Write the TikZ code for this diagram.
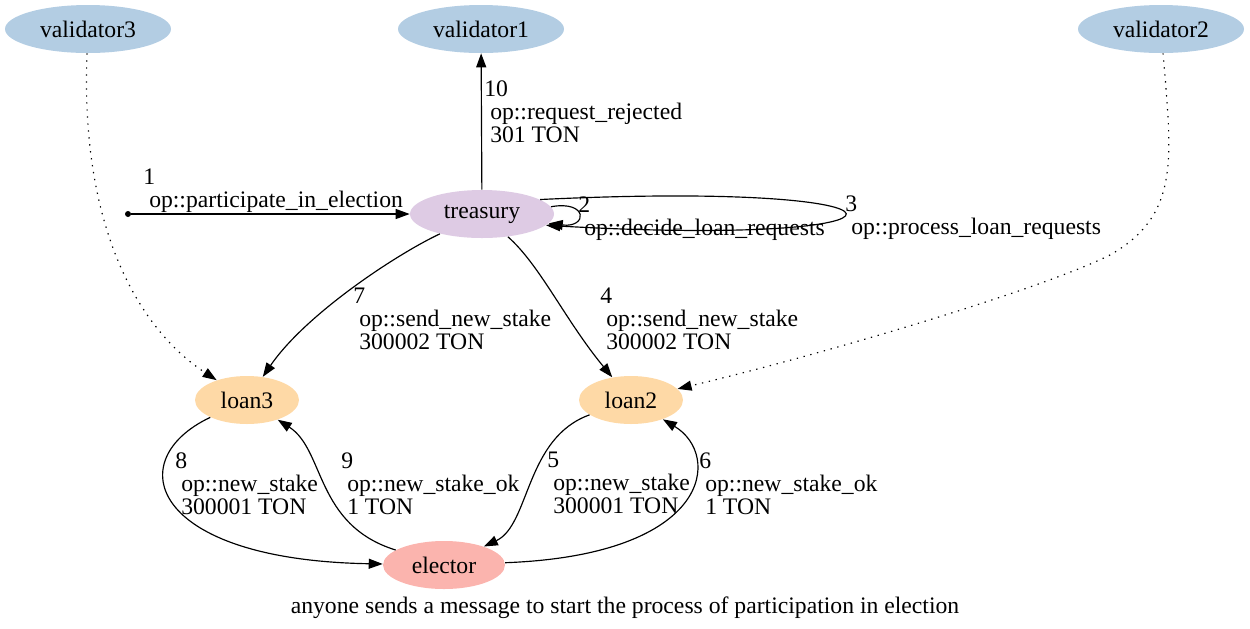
\documentclass[tikz,border=0pt]{standalone}
\usepackage{fontspec}
\setmainfont{Liberation Serif}
\usetikzlibrary{shapes.geometric, arrows.meta}
\definecolor{valblue}{HTML}{B3CDE3}
\definecolor{treaspurple}{HTML}{DECBE4}
\definecolor{loanorange}{HTML}{FED9A6}
\definecolor{electred}{HTML}{FBB4AE}
\tikzstyle{validator} = [ellipse, minimum width=99.6pt, minimum height=28.8pt, inner sep=0pt, fill=valblue]
\tikzstyle{treasurybox} = [ellipse, minimum width=86.4pt, minimum height=28.8pt, inner sep=0pt, fill=treaspurple]
\tikzstyle{loan} = [ellipse, minimum width=62.4pt, minimum height=28.8pt, inner sep=0pt, fill=loanorange]
\tikzstyle{electorbox} = [ellipse, minimum width=73.2pt, minimum height=28.8pt, inner sep=0pt, fill=electred]
\tikzstyle{msg} = [anchor=north west, inner sep=0pt, align=left]
\tikzstyle{arrow} = [line width=0.7pt, -{Triangle[length=8.4pt, width=6pt]}]
\tikzstyle{dotarrow} = [arrow, dash pattern=on 0.8pt off 3.4pt]
\newcommand{\labsp}{\hspace*{0.25em}}

\begin{document}
\begin{tikzpicture}[x=0.6pt, y=-0.6pt, font=\fontsize{14.2}{13.8}\selectfont]
            \useasboundingbox (0,0) rectangle (1250,628);
            \node [validator] at (88,29) (validator3) {validator3};
            \node [validator] at (481,29) (validator1) {validator1};
            \node [validator] at (1161,29) (validator2) {validator2};
            \node [treasurybox] at (482,214) (treasury) {treasury};
            \node [loan] at (247,400) (loan3) {loan3};
            \node [loan] at (631,400) (loan2) {loan2};
            \node [electorbox] at (444,565) (elector) {elector};
            \node [circle, fill, inner sep=0pt, minimum size=3.6pt] at (128,214) (start) {};

            \draw [arrow] (start) -- (treasury);
            \draw [arrow] (treasury) -- (validator1);
            \draw [arrow] (treasury.6) .. controls (588,200) and (588,228) .. (treasury.-8);
            \draw [arrow] (treasury.14) .. controls (945,180) and (945,248) .. (treasury.-10);
            \draw [arrow] (treasury) .. controls (395,255) and (305,315) .. (loan3);
            \draw [arrow] (treasury) .. controls (540,265) and (565,320) .. (loan2);
            \draw [dotarrow] (validator3) .. controls (80,230) and (140,330) .. (loan3);
            \draw [dotarrow] (validator2) .. controls (1172,160) and (1180,215) .. (1110,255)
                .. controls (1040,290) and (820,355) .. (loan2);
            \draw [arrow] (loan3) .. controls (120,460) and (150,560) .. (elector);
            \draw [arrow] (elector) .. controls (315,525) and (325,450) .. (loan3);
            \draw [arrow] (loan2) .. controls (525,438) and (530,525) .. (elector);
            \draw [arrow] (elector) .. controls (712,555) and (722,455) .. (loan2);

            % message labels
            \node [msg] at (143,169) (m1) {1\\\labsp op::participate\_in\_election};
            \node [msg] at (484,80) (m10) {10\\\labsp op::request\_rejected\\\labsp 301 TON};
            \node [msg] at (578,196) (m2) {2\\\labsp op::decide\_loan\_requests};
            \node [msg] at (845,195) (m3) {3\\\labsp op::process\_loan\_requests};
            \node [msg] at (353,288) (m7) {7\\\labsp op::send\_new\_stake\\\labsp 300002 TON};
            \node [msg] at (600,288) (m4) {4\\\labsp op::send\_new\_stake\\\labsp 300002 TON};
            \node [msg] at (175,452) (m8) {8\\\labsp op::new\_stake\\\labsp 300001 TON};
            \node [msg] at (341,452) (m9) {9\\\labsp op::new\_stake\_ok\\\labsp 1 TON};
            \node [msg] at (547,452) (m5) {5\\\labsp op::new\_stake\\\labsp 300001 TON};
            \node [msg] at (699,452) (m6) {6\\\labsp op::new\_stake\_ok\\\labsp 1 TON};

            \node [anchor=base] at (625,613) (caption) {anyone sends a message to start the process of participation in election};
            \end{tikzpicture}
\end{document}
